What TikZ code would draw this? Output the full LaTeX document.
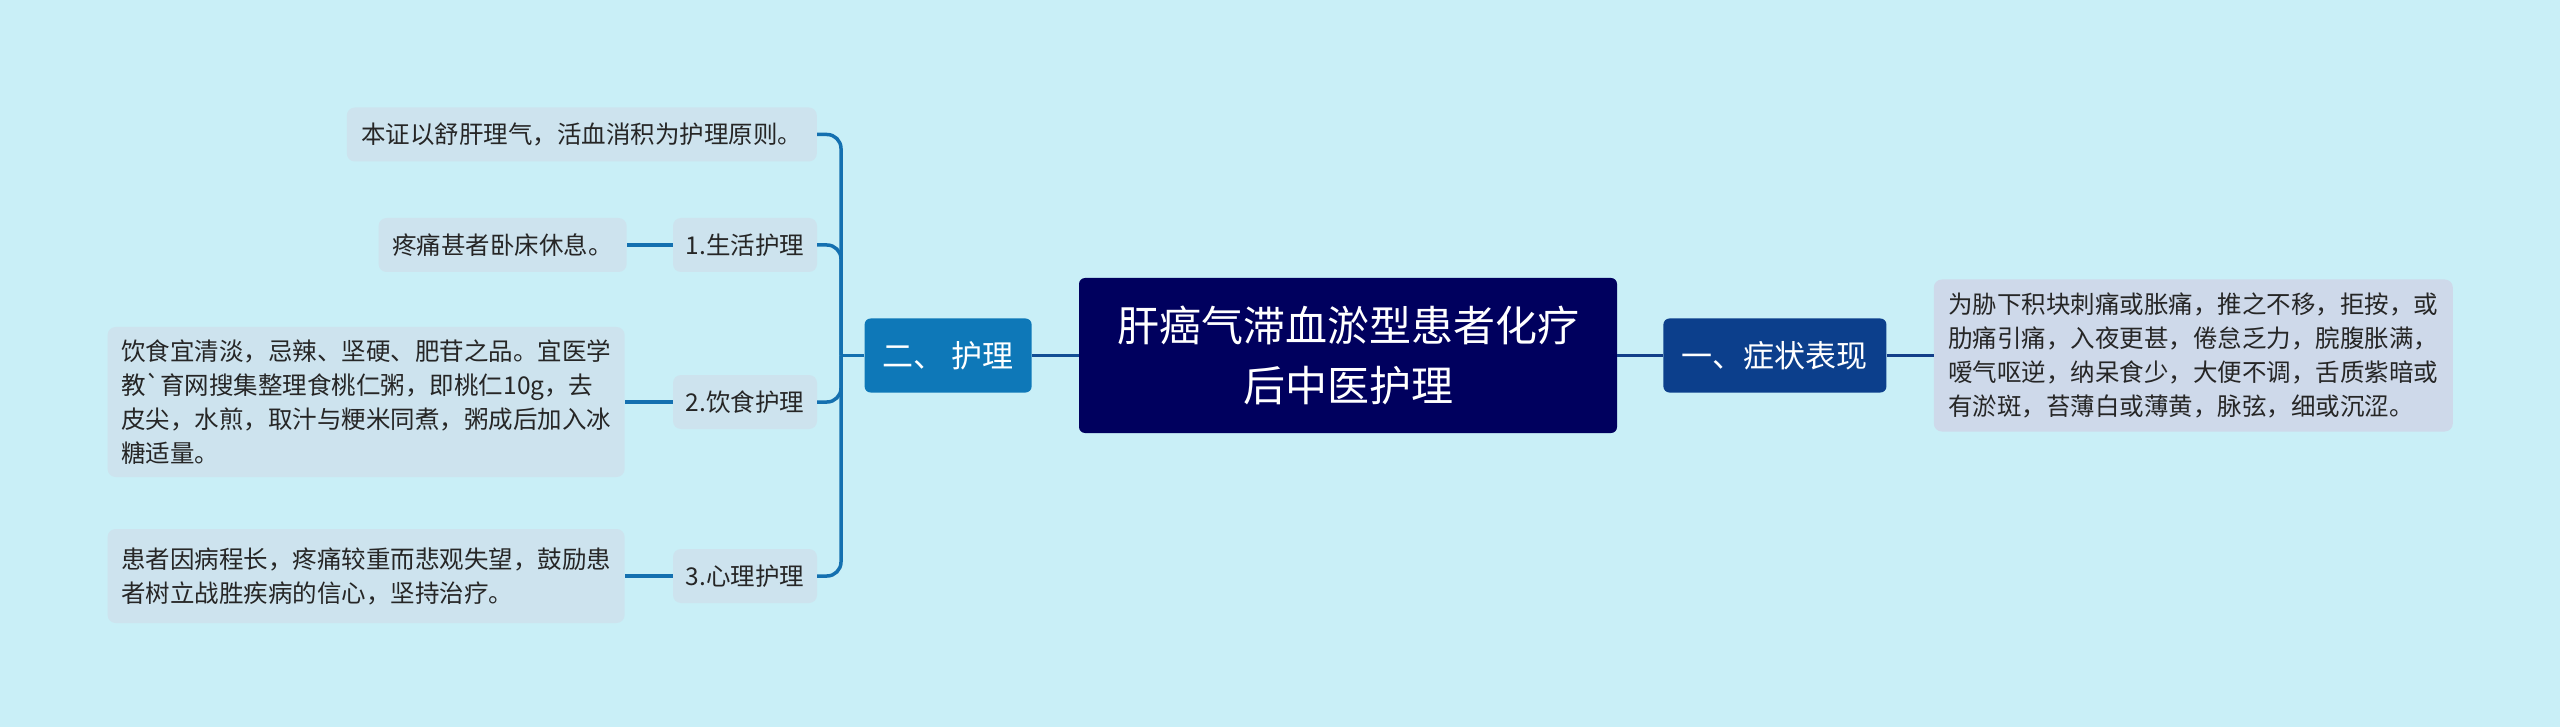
\documentclass[tikz,border=0pt]{standalone}
\usepackage{fontspec}
\setmainfont{Noto Sans CJK SC}
\usetikzlibrary{positioning}
\definecolor{bgcol}{HTML}{C9EFF7}
\definecolor{rootcol}{HTML}{00005E}
\definecolor{carecol}{HTML}{0E78B8}
\definecolor{symcol}{HTML}{0C3F8C}
\definecolor{leafcol}{HTML}{CDE3EE}
\definecolor{notecol}{HTML}{CED9EA}
\definecolor{branchcol}{HTML}{1470B0}
\definecolor{trunkcol}{HTML}{133F8A}
\tikzset{root node/.style={rectangle,rounded corners=6pt,fill=rootcol,text=white,inner sep=0pt,
             font=\fontsize{42}{60}\selectfont,align=center,minimum width=538pt,minimum height=155pt},
         topic node/.style={rectangle,rounded corners=6pt,text=white,inner sep=0pt,
             font=\fontsize{31}{40}\selectfont,minimum height=74pt},
         sub node/.style={rectangle,rounded corners=8pt,fill=leafcol,text=black!85,inner sep=0pt,
             font=\fontsize{24.5}{34}\selectfont,minimum height=54pt},
         note node/.style={rectangle,rounded corners=8pt,fill=leafcol,text=black!85,inner sep=0pt,
             font=\fontsize{24.5}{34}\selectfont,align=left,minimum width=517pt},
         branch/.style = {draw=branchcol,line width=3.5pt,rounded corners=14pt},
         trunk/.style = {draw=trunkcol,line width=3.5pt}
}

\begin{document}
\begin{tikzpicture}[x=1pt,y=-1pt]
\useasboundingbox (0,0) rectangle (2560,727);
\fill[bgcol] (0,0) rectangle (2560,727);

\node[root node] (0) at (1348,355.5) {肝癌气滞血淤型患者化疗\\后中医护理};
\node[topic node,fill=carecol,minimum width=167pt,left = 47pt of 0] (1) {二、 护理};
\node[topic node,fill=symcol,minimum width=223pt,right = 46pt of 0] (2) {一、症状表现};
\node[note node,fill=notecol,minimum width=519pt,minimum height=152pt,right = 47pt of 2] (3)
    {为胁下积块刺痛或胀痛，推之不移，拒按，或\\肋痛引痛，入夜更甚，倦怠乏力，脘腹胀满，\\嗳气呕逆，纳呆食少，大便不调，舌质紫暗或\\有淤斑，苔薄白或薄黄，脉弦，细或沉涩。};

\node[sub node,minimum width=470pt,anchor=east] (4) at (817,134.5) {本证以舒肝理气，活血消积为护理原则。};
\node[sub node,minimum width=144pt] (5) at (745,245) {1.生活护理};
\node[sub node,minimum width=248pt,left = 46pt of 5] (6) {疼痛甚者卧床休息。};
\node[sub node,minimum width=144pt] (7) at (745,402) {2.饮食护理};
\node[note node,minimum height=150pt,left = 48pt of 7] (8)
    {饮食宜清淡，忌辣、坚硬、肥苷之品。宜医学\\教\textasciigrave 育网搜集整理食桃仁粥，即桃仁10g，去\\皮尖，水煎，取汁与粳米同煮，粥成后加入冰\\糖适量。};
\node[sub node,minimum width=144pt] (9) at (745,576) {3.心理护理};
\node[note node,minimum height=94pt,left = 48pt of 9] (10)
    {患者因病程长，疼痛较重而悲观失望，鼓励患\\者树立战胜疾病的信心，坚持治疗。};

\coordinate (j) at (841,355.5);
\draw[trunk,draw=trunkcol!70!branchcol] (0.west) -- (1.east);
\draw[trunk] (0.east) -- (2.west);
\draw[trunk] (2.east) -- (3.west);
\draw[branch] (1.west) -- (j);
\foreach \n in {4,5,7,9}
    \draw[branch] (j) |- (\n.east);
\draw[branch] (5.west) -- (6.east);
\draw[branch] (7.west) -- (8.east);
\draw[branch] (9.west) -- (10.east);
\end{tikzpicture}
\end{document}
